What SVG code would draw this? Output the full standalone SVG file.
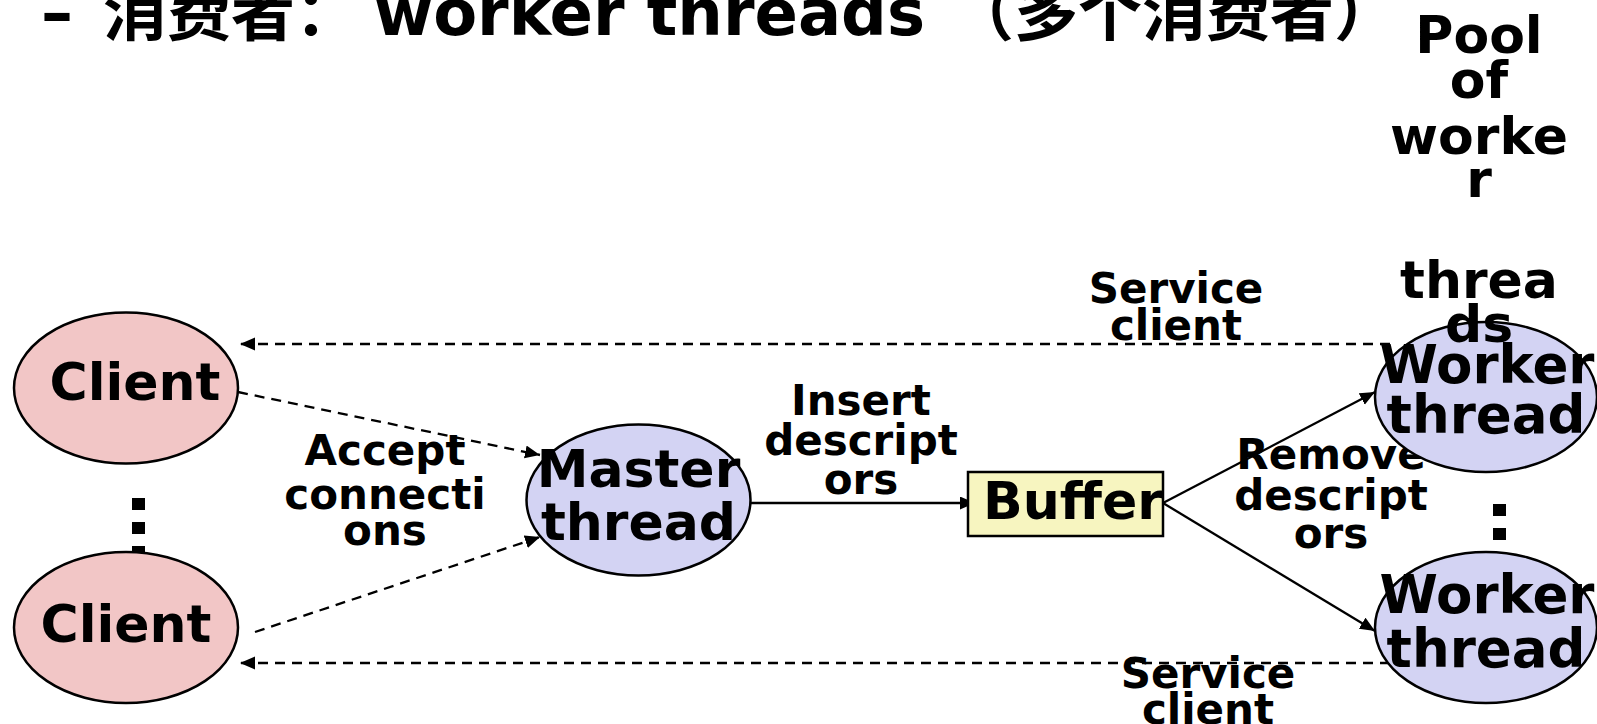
<svg xmlns="http://www.w3.org/2000/svg" width="1597" height="724" viewBox="0 0 1597 724">
<style>
text{font-family:"DejaVu Sans","Noto Sans CJK SC",sans-serif;font-weight:bold;fill:#000;text-anchor:middle}
.node{stroke:#000;stroke-width:2.5}
.client{fill:#f2c6c6}
.thr{fill:#d3d3f3}
.big{font-size:52px}
.lbl{font-size:42px}
.conn{stroke:#000;stroke-width:2.3;fill:none}
.dash{stroke-dasharray:10 7}
.dot{fill:#000}
</style>
<defs>
<marker id="ah" markerUnits="userSpaceOnUse" markerWidth="16" markerHeight="14" refX="15" refY="6.5" orient="auto">
<path d="M0,0 L15,6.5 L0,13 z" fill="#000"/>
</marker>
</defs>
<g id="title">
<text y="35" style="font-size:64px;text-anchor:start"><tspan x="41">–</tspan><tspan x="103">消费者：</tspan><tspan x="374">worker threads</tspan><tspan x="950">（多个消费者）</tspan></text>
</g>
<g id="pool-label" class="big">
<text x="1479" y="53">Pool</text>
<text x="1479" y="98">of</text>
<text x="1479" y="154">worke</text>
<text x="1479" y="197">r</text>
<text x="1479" y="298">threa</text>
</g>
<g id="connectors">
<line class="conn dash" x1="1390" y1="344" x2="240" y2="344" marker-end="url(#ah)"/>
<line class="conn dash" x1="1390" y1="663" x2="240" y2="663" marker-end="url(#ah)"/>
<line class="conn dash" x1="238" y1="392" x2="540" y2="455" marker-end="url(#ah)"/>
<line class="conn dash" x1="255" y1="632" x2="540" y2="537" marker-end="url(#ah)"/>
<line class="conn" x1="750" y1="503" x2="975" y2="503" marker-end="url(#ah)"/>
<line class="conn" x1="1163" y1="503" x2="1375" y2="392" marker-end="url(#ah)"/>
<line class="conn" x1="1163" y1="503" x2="1375" y2="631" marker-end="url(#ah)"/>
<g class="lbl">
<text x="385" y="465">Accept</text>
<text x="385" y="509">connecti</text>
<text x="385" y="545">ons</text>
<text x="861" y="415">Insert</text>
<text x="861" y="455">descript</text>
<text x="861" y="494">ors</text>
<text x="1176" y="303">Service</text>
<text x="1176" y="340">client</text>
<text x="1331" y="469">Remove</text>
<text x="1331" y="510">descript</text>
<text x="1331" y="548">ors</text>
<text x="1208" y="688">Service</text>
<text x="1208" y="724">client</text>
</g>
</g>
<g id="client1">
<ellipse class="node client" cx="126" cy="388" rx="112" ry="75.5"/>
<text class="big" x="135" y="400">Client</text>
</g>
<g id="client-dots">
<rect class="dot" x="132" y="498" width="13" height="12"/>
<rect class="dot" x="132" y="522" width="13" height="12"/>
<rect class="dot" x="132" y="546" width="13" height="12"/>
</g>
<g id="client2">
<ellipse class="node client" cx="126" cy="627.5" rx="112" ry="75.5"/>
<text class="big" x="126" y="642">Client</text>
</g>
<g id="master">
<ellipse class="node thr" cx="638.5" cy="500" rx="112" ry="75.5"/>
<text class="big" x="638.5" y="487">Master</text>
<text class="big" x="638.5" y="540">thread</text>
</g>
<g id="buffer">
<rect class="node" x="968" y="472" width="195" height="64" fill="#f7f5c0" stroke-width="2"/>
<text class="big" x="1073" y="519" textLength="180" lengthAdjust="spacingAndGlyphs">Buffer</text>
</g>
<g id="worker1">
<ellipse class="node thr" cx="1486" cy="397" rx="111" ry="75"/>
<text class="big" x="1479" y="342">ds</text>
<text class="big" x="1487" y="383" style="font-size:53px">Worker</text>
<text class="big" x="1486" y="433" style="font-size:53px">thread</text>
</g>
<g id="worker-dots">
<rect class="dot" x="1493" y="504" width="13" height="12"/>
<rect class="dot" x="1493" y="528" width="13" height="12"/>
</g>
<g id="worker2">
<ellipse class="node thr" cx="1486" cy="627.5" rx="111" ry="75.5"/>
<text class="big" x="1487" y="613" style="font-size:53px">Worker</text>
<text class="big" x="1486" y="667" style="font-size:53px">thread</text>
</g>
</svg>
